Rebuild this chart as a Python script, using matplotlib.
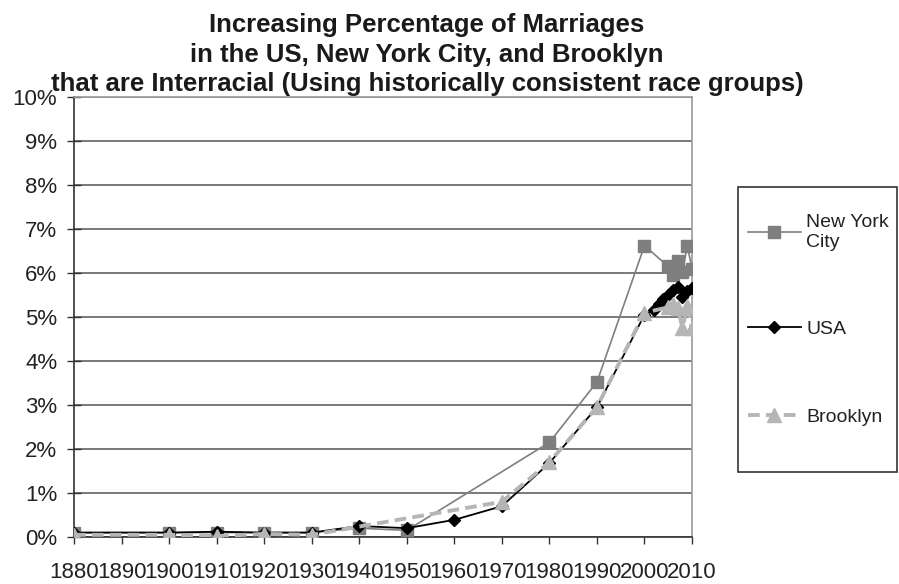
import matplotlib.pyplot as plt
from matplotlib.patches import Rectangle
from matplotlib.ticker import PercentFormatter

plt.rcParams['font.family'] = ['Liberation Sans', 'DejaVu Sans']

# percent of marriages that are interracial
nyc_years = [1880, 1900, 1910, 1920, 1930, 1940, 1950, 1980, 1990, 2000,
             2005, 2006, 2007, 2008, 2009, 2010]
nyc_pct = [0.10, 0.10, 0.10, 0.10, 0.10, 0.20, 0.15, 2.15, 3.52, 6.62,
           6.15, 5.95, 6.28, 6.02, 6.62, 6.10]

usa_years = [1880, 1900, 1910, 1920, 1930, 1940, 1950, 1960, 1970, 1980,
             1990, 2000, 2002, 2003, 2004, 2005, 2006, 2007, 2008, 2009, 2010]
usa_pct = [0.10, 0.10, 0.12, 0.10, 0.10, 0.25, 0.20, 0.39, 0.70, 1.68,
           2.95, 5.05, 5.16, 5.30, 5.40, 5.50, 5.62, 5.68, 5.45, 5.58, 5.66]

bk_years = [1880, 1900, 1910, 1920, 1930, 1970, 1980, 1990, 2000,
            2005, 2006, 2007, 2008, 2009, 2010]
bk_pct = [0.05, 0.05, 0.02, 0.07, 0.05, 0.80, 1.70, 2.95, 5.10,
          5.22, 5.30, 5.20, 4.75, 5.25, 4.75]

tick_years = list(range(1880, 2011, 10))

W, H = 899, 584
fig = plt.figure(figsize=(W / 100, H / 100), dpi=100)
ax = fig.add_axes([74 / W, 1 - 537 / H, (692 - 74) / W, (537 - 97) / H])

ax.plot(nyc_years, nyc_pct, color='#7f7f7f', lw=1.2, marker='s', ms=9,
        mec='#7f7f7f', label='New York\nCity', zorder=3)
ax.plot(usa_years, usa_pct, color='black', lw=1.3, marker='D', ms=6.5,
        mec='black', label='USA', zorder=4)
ax.plot(bk_years, bk_pct, color='#b5b5b5', lw=2.8, ls=(0, (3, 1.6)), marker='^',
        ms=10.5, mec='#b5b5b5', label='Brooklyn', zorder=5)

ax.set_xlim(1880, 2010)
ax.set_ylim(0, 10)
ax.set_xticks(tick_years)
ax.set_xticklabels([str(y) for y in tick_years])
ax.set_yticks(range(0, 11))
ax.yaxis.set_major_formatter(PercentFormatter(decimals=0))

ax.grid(axis='y', color='#555555', lw=1.1)
ax.set_axisbelow(True)
for side in ['top', 'right']:
    ax.spines[side].set_color('#999999')
    ax.spines[side].set_linewidth(1.2)
for side in ['left', 'bottom']:
    ax.spines[side].set_color('#333333')
    ax.spines[side].set_linewidth(1.2)

ax.tick_params(axis='y', direction='inout', length=10, width=1, color='#333333',
               labelsize=16, labelcolor='#222222', pad=7)
ax.tick_params(axis='x', direction='out', length=5, width=1, color='#333333',
               labelsize=16, labelcolor='#222222', pad=13)

fig.text(427 / W, 1 - 13 / H,
         'Increasing Percentage of Marriages\n'
         'in the US, New York City, and Brooklyn\n'
         'that are Interracial (Using historically consistent race groups)',
         ha='center', va='top', fontsize=18.5, fontweight='bold',
         color='#1a1a1a', linespacing=1.3)

# legend box drawn separately so the entries can sit where they should
fig.patches.append(Rectangle((738 / W, 1 - 472 / H), 159 / W, 285 / H,
                             transform=fig.transFigure, fill=False,
                             edgecolor='#333333', lw=1.2))
leg = fig.legend(loc='upper left', bbox_to_anchor=(748 / W, 1 - 214 / H),
                 fontsize=14, frameon=False, handlelength=2.7,
                 labelspacing=3.6, borderpad=0, handletextpad=0.3,
                 borderaxespad=0)
for t in leg.get_texts():
    t.set_color('#222222')

fig.savefig('out.png', dpi=100)
